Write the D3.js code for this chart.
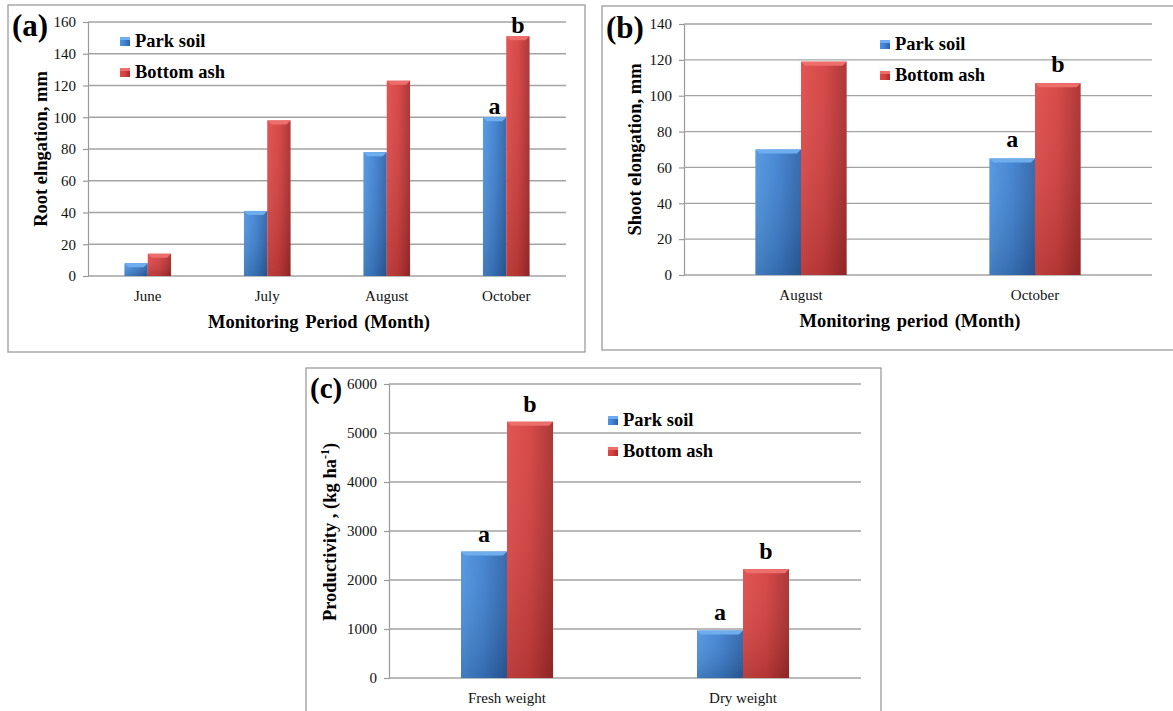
<!DOCTYPE html>
<html>
<head>
<meta charset="utf-8">
<script src="https://cdn.jsdelivr.net/npm/d3@7"></script>
<style>
  body { margin: 0; background: #fff; }
  text { font-family: "Liberation Serif", "Times New Roman", serif; }
</style>
</head>
<body>
<svg id="chart" width="1173" height="711"></svg>
<script>
// ---- data ----
const seriesNames = ['Park soil', 'Bottom ash'];

const monthsA = ['June', 'July', 'August', 'October'];
const parkA = [8, 41, 78, 100];
const ashA = [14, 98, 123, 151];
const lettersA = [['', ''], ['', ''], ['', ''], ['a', 'b']];
const ticksA = [0, 20, 40, 60, 80, 100, 120, 140, 160];

const monthsB = ['August', 'October'];
const parkB = [70, 65];
const ashB = [119, 107];
const lettersB = [['', ''], ['a', 'b']];
const ticksB = [0, 20, 40, 60, 80, 100, 120, 140];

const weightsC = ['Fresh weight', 'Dry weight'];
const parkC = [2580, 970];
const ashC = [5230, 2220];
const lettersC = [['a', 'b'], ['a', 'b']];
const ticksC = [0, 1000, 2000, 3000, 4000, 5000, 6000];

const FONT = '"Liberation Serif", "Times New Roman", serif';
const svg = d3.select('#chart');
const defs = svg.append('defs');

function hGrad(id, stops) {
  const g = defs.append('linearGradient').attr('id', id)
    .attr('x1', '0').attr('x2', '1').attr('y1', '0').attr('y2', '0');
  stops.forEach((c, i) => g.append('stop').attr('offset', i / (stops.length - 1)).attr('stop-color', c));
}
hGrad('blueG', ['#4e94e0', '#3d7fd0', '#2c62a8']);
hGrad('redG', ['#e04a48', '#d43f3e', '#a82b2b']);
const shade = defs.append('linearGradient').attr('id', 'shadeG')
  .attr('x1', '0').attr('x2', '0').attr('y1', '0').attr('y2', '1');
shade.append('stop').attr('offset', 0).attr('stop-color', '#fff').attr('stop-opacity', 0.06);
shade.append('stop').attr('offset', 1).attr('stop-color', '#000').attr('stop-opacity', 0.16);

const fills = ['url(#blueG)', 'url(#redG)'];
const caps = ['#6eaeee', '#ee6e6c'];

function drawPanel(cfg) {
  const g = svg.append('g').attr('font-family', FONT);

  // frame
  g.append('rect')
    .attr('x', cfg.frame[0]).attr('y', cfg.frame[1])
    .attr('width', cfg.frame[2] - cfg.frame[0]).attr('height', cfg.frame[3] - cfg.frame[1])
    .attr('fill', '#fff').attr('stroke', '#9c9c9c').attr('stroke-width', 1.3);

  const x0 = d3.scaleBand().domain(cfg.cats).range([cfg.left, cfg.right]);
  const bw = x0.bandwidth() * 0.195;
  const x1 = d3.scaleBand().domain(seriesNames).range([-bw, bw]);
  const y = d3.scaleLinear().domain([0, cfg.max]).range([cfg.bottom, cfg.top]);

  // grid + y axis
  const yAxis = g.append('g').attr('transform', `translate(${cfg.left},0)`)
    .call(d3.axisLeft(y).tickValues(cfg.ticks).tickFormat(d3.format('d')).tickSize(5).tickPadding(7));
  yAxis.attr('font-family', FONT);
  yAxis.select('.domain').attr('stroke', '#999').attr('stroke-width', 1.2);
  yAxis.selectAll('.tick line').attr('stroke', '#999').attr('stroke-width', 1.2);
  yAxis.selectAll('.tick text').attr('font-size', 15).attr('fill', '#111');
  g.append('g').selectAll('line').data(cfg.ticks).join('line')
    .attr('x1', cfg.left).attr('x2', cfg.right)
    .attr('y1', d => y(d)).attr('y2', d => y(d))
    .attr('stroke', '#a3a3a3').attr('stroke-width', 1.3);

  // bars
  const rows = cfg.cats.map((c, i) => ({ cat: c, i: i, vals: [cfg.park[i], cfg.ash[i]] }));
  rows.forEach(r => {
    r.vals.forEach((v, s) => {
      const bx = x0(r.cat) + x0.bandwidth() / 2 + x1(seriesNames[s]);
      const by = y(v);
      const bh = y(0) - y(v);
      g.append('rect').attr('x', bx).attr('y', by).attr('width', bw).attr('height', bh)
        .attr('fill', fills[s]);
      g.append('rect').attr('x', bx).attr('y', by).attr('width', bw).attr('height', bh)
        .attr('fill', 'url(#shadeG)');
      const capH = Math.min(4, bh);
      g.append('polygon')
        .attr('points', [[bx, by], [bx + bw, by], [bx + bw - 4, by + capH], [bx + 4, by + capH]].join(' '))
        .attr('fill', caps[s]);
      const lt = cfg.letters[r.i][s];
      if (lt) {
        g.append('text').attr('x', bx + bw / 2).attr('y', by - cfg.letterGap)
          .attr('text-anchor', 'middle').attr('font-weight', 'bold')
          .attr('font-size', 24).text(lt);
      }
    });
  });

  // x labels
  g.append('g').selectAll('text').data(cfg.cats).join('text')
    .attr('x', d => x0(d) + x0.bandwidth() / 2)
    .attr('y', cfg.bottom + 25)
    .attr('text-anchor', 'middle').attr('font-size', 15).attr('fill', '#111')
    .text(d => d);

  if (cfg.xTitle) {
    g.append('text').attr('x', (cfg.left + cfg.right) / 2 - 8).attr('y', cfg.bottom + 52)
      .attr('text-anchor', 'middle').attr('font-weight', 'bold').attr('font-size', 18.5)
      .attr('word-spacing', 2).text(cfg.xTitle);
  }

  // y title
  const yt = g.append('text')
    .attr('transform', `translate(${cfg.yTitleX},${(cfg.top + cfg.bottom) / 2 + cfg.yTitleDy}) rotate(-90)`)
    .attr('text-anchor', 'middle').attr('font-weight', 'bold').attr('font-size', 18.5);
  yt.append('tspan').text(cfg.yTitle);
  if (cfg.yTitleSup) {
    yt.append('tspan').attr('font-size', 12).attr('dy', -7).text(cfg.yTitleSup);
    yt.append('tspan').attr('dy', 7).text(cfg.yTitleEnd);
  }

  // panel letter
  g.append('text').attr('x', cfg.frame[0] + 4).attr('y', cfg.top + 14)
    .attr('font-weight', 'bold').attr('font-size', cfg.letterSize).text(cfg.label);

  // legend
  seriesNames.forEach((n, s) => {
    const ly = cfg.legend[1] + s * 31;
    g.append('rect').attr('x', cfg.legend[0]).attr('y', ly - 10).attr('width', 10).attr('height', 9)
      .attr('fill', fills[s]);
    g.append('rect').attr('x', cfg.legend[0]).attr('y', ly - 10).attr('width', 10).attr('height', 3)
      .attr('fill', caps[s]);
    g.append('text').attr('x', cfg.legend[0] + 15).attr('y', ly)
      .attr('font-weight', 'bold').attr('font-size', 18.5).text(n);
  });
}

drawPanel({
  frame: [8, 5, 585, 352], left: 88, right: 566, top: 22, bottom: 276,
  cats: monthsA, park: parkA, ash: ashA, letters: lettersA, ticks: ticksA, max: 160,
  letterGap: 3, xTitle: 'Monitoring Period (Month)', yTitle: 'Root elngation, mm',
  yTitleX: 47, yTitleDy: 0, label: '(a)', letterSize: 31, legend: [120, 47]
});

drawPanel({
  frame: [602, 6, 1180, 350], left: 684, right: 1152, top: 24, bottom: 275,
  cats: monthsB, park: parkB, ash: ashB, letters: lettersB, ticks: ticksB, max: 140,
  letterGap: 11, xTitle: 'Monitoring period (Month)', yTitle: 'Shoot elongation, mm',
  yTitleX: 641, yTitleDy: 0, label: '(b)', letterSize: 31, legend: [880, 50]
});

drawPanel({
  frame: [306, 368, 881, 720], left: 389, right: 861, top: 384, bottom: 678,
  cats: weightsC, park: parkC, ash: ashC, letters: lettersC, ticks: ticksC, max: 6000,
  letterGap: 10, xTitle: null, yTitle: 'Productivity , (kg ha', yTitleSup: '-1', yTitleEnd: ')',
  yTitleX: 336, yTitleDy: 1, label: '(c)', letterSize: 29, legend: [608, 426]
});
</script>
</body>
</html>
